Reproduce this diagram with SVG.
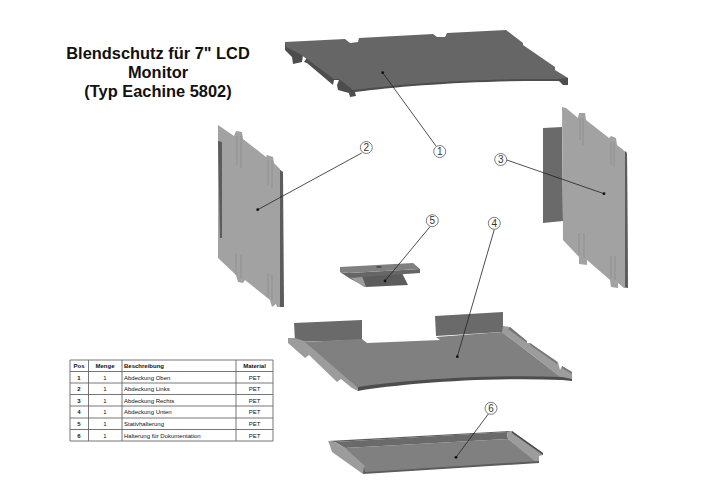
<svg xmlns="http://www.w3.org/2000/svg" width="708" height="500" viewBox="0 0 708 500">
<style>
text{font-family:"Liberation Sans",Arial,sans-serif;fill:#111}
.title{font-size:16.400px;font-weight:bold;text-anchor:middle}
.lead{fill:none;stroke:#222;stroke-width:.8}
.dot{fill:#111}
.bub{fill:#fff;stroke:#444;stroke-width:.7}
.num{font-size:10px;text-anchor:middle;fill:#333}
.t{font-size:6px;fill:#333}
.m{text-anchor:middle}
.b{font-weight:bold}
.g{fill:none;stroke:#8a8a8a;stroke-width:.7}
.grid{fill:none;stroke:#666;stroke-width:.9}
.top{fill:#666}.edge{fill:#4d4d4d}.side{fill:#9c9c9c}.side2{fill:#5c5c5c}.mid{fill:#808080}.lite{fill:#a2a2a2}.wall{fill:#6a6a6a}.rim{fill:#777}
</style>
<rect width="708" height="500" fill="#fff"/>
<g id="title"><text class="title" x="158" y="59">Blendschutz für 7" LCD</text><text class="title" x="158" y="78">Monitor</text><text class="title" x="158" y="97">(Typ Eachine 5802)</text></g>
<g id="node1">
<path class="edge" d="M285 42V50L292 57L293 64L302 62L303 55L308 56L304 62L307 63L333 85L334 80L339 80L337 85L338 90L349 93L350 97L356 96L355 92C400 86 480 80 559 81L563 85L566 85L568 85L568 78Z"/>
<path class="top" d="M285 42L345 39L350 43L358 42L359 38L433 34L437 37L445 37L447 33L506 30L523 43V45L555 67V70L568 78L558 79C480 78 400 84 353 90L339 79L334 79L304 57L300 54L286 47Z"/>
</g>
<g id="node2">
<path class="side2" d="M279 169L283 172L284 307L279 307Z"/>
<path class="lite" d="M218 125L234 136L236 131L242 132L243 139L266 157L267 155L273 157L274 163L280 169V307H277L276 304L272 307L270 300L245 280L243 283L238 282L236 275L218 258Z"/>
<path class="side2" d="M218 141L222 142L222 238L220 238Z"/>
<path class="g" d="M237 136V165M241 136V168M268 160V185M272 160V188M236 253V275M241 254V278M268 273V297M272 275V300"/>
</g>
<g id="node3">
<path class="wall" d="M543 128L562 127L563 221L543 223Z"/>
<path class="lite" d="M562 107L566 108L578 118L579 113L585 113L586 120L609 138L611 136L616 138L617 145L627 153L628 288H624L618 283V288L611 287L610 280L587 260V265L579 264L579 257L563 240Z"/>
<path class="side2" d="M625 151L627 153L628 288L625 287Z"/>
<path class="g" d="M580 118V140M583 118V145M611 142V165M614 142V167M579 233V255M584 233V258M611 256V278M615 256V280"/>
</g>
<g id="node4">
<path class="wall" d="M294 323L362 320V340L295 342Z"/>
<path class="wall" d="M435 316L503 312V332L436 336Z"/>
<path class="side" d="M288 338L295 338L307 342L358 387V391L352 388L341 379L337 382L309 355L305 358L288 343Z"/>
<path class="side" d="M503 326L510 327L527 343L530 343L558 362L560 370L562 366L572 372V380L562 378L502 332Z"/>
<path class="rim" d="M510 327L527 341V343L508 329ZM530 343L557 362V364L530 345ZM562 366L572 372V374L562 368Z"/>
<path class="mid" d="M305 342L362 339L367 343L440 340L436 337L502 332L562 378C480 375 400 382 358 388Z"/>
<path class="edge" d="M358 387C400 381 480 374 562 377L572 379V381L562 380C480 377 400 384 358 391Z"/>
</g>
<g id="node5">
<path class="side2" d="M349 278L362 276L402 273L408 285L366 287Z"/>
<path class="side" d="M351 278L362 276L366 287L364 287Z"/>
<path class="top" d="M340 272L349 278L420 273V269L349 273Z"/>
<path class="mid" d="M340 267L413 263L420 269L349 273L340 272Z"/>
<ellipse cx="379" cy="267" rx="3" ry="1" fill="#4d4d4d"/>
</g>
<g id="node6">
<path class="mid" d="M345 448L508 439L538 462L363 473Z"/>
<path class="wall" d="M335 442L507 432L508 439L345 448Z"/>
<path class="side" d="M328 441L335 442L345 448L365 466L363 474L332 452L329 443Z"/>
<path class="side" d="M507 432L512 431L543 453V455L539 456V462L537 463L508 439Z"/>
<path class="side2" d="M328 441L512 431L508 432L335 442Z"/>
<path class="side2" d="M364 466L365 472L539 461V463L363 474Z"/>
<path class="edge" d="M512 431L543 453V455L512 433Z"/>
</g>
<g id="connectors">
<path class="lead" d="M382.700 72.700L436 146M257.700 209.700L361.700 153M604 193.700L506.700 160M457.300 356.700L494.300 229.500M385 281L430 226.700M456 457.300L488.300 414"/>
<g class="dot"><circle cx="382.700" cy="72.700" r="1.400"/><circle cx="257.700" cy="209.700" r="1.400"/><circle cx="604" cy="193.700" r="1.400"/><circle cx="457.300" cy="356.700" r="1.400"/><circle cx="385" cy="281" r="1.400"/><circle cx="456" cy="457.300" r="1.400"/></g>
</g>
<g id="labels">
<circle class="bub" cx="439.700" cy="151.500" r="6"/><text class="num" x="439.700" y="155">1</text>
<circle class="bub" cx="366.300" cy="147.500" r="6"/><text class="num" x="366.300" y="151">2</text>
<circle class="bub" cx="500.700" cy="159.500" r="6"/><text class="num" x="500.700" y="163">3</text>
<circle class="bub" cx="494.300" cy="223.300" r="6"/><text class="num" x="494.300" y="227">4</text>
<circle class="bub" cx="432.300" cy="220.700" r="6"/><text class="num" x="432.300" y="224">5</text>
<circle class="bub" cx="491" cy="408.300" r="6"/><text class="num" x="491" y="412">6</text>
</g>
<g id="table">
<path class="grid" d="M70 360H273V441H70ZM70 371.500H273M70 383H273M70 394.500H273M70 406H273M70 418H273M70 429.500H273M88.500 360V441M122 360V441M236 360V441"/>
<g class="t b"><text class="m" x="79" y="368">Pos</text><text class="m" x="105" y="368">Menge</text><text x="124" y="368">Beschreibung</text><text class="m" x="254.500" y="368">Material</text></g>
<g class="t">
<text class="m b" x="79" y="379.500">1</text><text class="m" x="105" y="379.500">1</text><text x="124" y="379.500">Abdeckung Oben</text><text class="m" x="254.500" y="379.500">PET</text>
<text class="m b" x="79" y="391">2</text><text class="m" x="105" y="391">1</text><text x="124" y="391">Abdeckung Links</text><text class="m" x="254.500" y="391">PET</text>
<text class="m b" x="79" y="402.500">3</text><text class="m" x="105" y="402.500">1</text><text x="124" y="402.500">Abdeckung Rechts</text><text class="m" x="254.500" y="402.500">PET</text>
<text class="m b" x="79" y="414">4</text><text class="m" x="105" y="414">1</text><text x="124" y="414">Abdeckung Unten</text><text class="m" x="254.500" y="414">PET</text>
<text class="m b" x="79" y="426">5</text><text class="m" x="105" y="426">1</text><text x="124" y="426">Stativhalterung</text><text class="m" x="254.500" y="426">PET</text>
<text class="m b" x="79" y="437.500">6</text><text class="m" x="105" y="437.500">1</text><text x="124" y="437.500">Halterung für Dokumentation</text><text class="m" x="254.500" y="437.500">PET</text>
</g>
</g>
</svg>
